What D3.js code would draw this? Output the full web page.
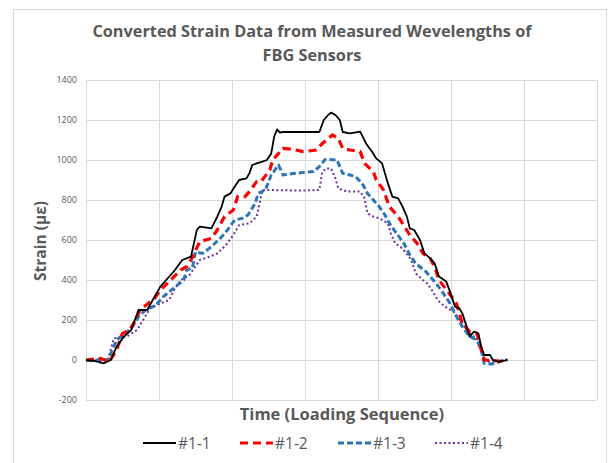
<!DOCTYPE html>
<html>
<head>
<meta charset="utf-8">
<script src="https://cdn.jsdelivr.net/npm/d3@7"></script>
<style>
  body { margin: 0; background: #fff; }
  svg { display: block; }
</style>
</head>
<body>
<div id="chart"></div>
<script>
// series names shown in the legend
const seriesNames = ["#1-1", "#1-2", "#1-3", "#1-4"];
const yTicks = [-200, 0, 200, 400, 600, 800, 1000, 1200, 1400];

// time index (loading sequence) and strain values
const t11 = [0, 6, 12, 17, 21, 26, 31, 36, 42, 47, 51, 55, 58, 61, 66, 72, 76, 78, 86, 90, 93, 95, 99, 102, 105, 110, 112, 114, 117, 121, 124, 127, 129, 131, 133, 135, 160, 163, 166, 168, 171, 174, 176, 181, 188, 192, 196, 199, 203, 205, 207, 210, 214, 217, 220, 222, 225, 229, 232, 236, 239, 242, 247, 250, 253, 256, 258, 261, 263, 266, 269, 271, 273, 277, 279, 283, 287, 289];
const s11 = [0, -5, -17, 0, 67, 117, 150, 250, 250, 317, 367, 400, 425, 450, 500, 517, 650, 667, 658, 717, 767, 817, 833, 867, 900, 908, 933, 975, 983, 992, 1000, 1033, 1117, 1153, 1137, 1140, 1140, 1200, 1225, 1237, 1225, 1200, 1140, 1133, 1142, 1083, 1042, 1008, 983, 933, 883, 817, 808, 767, 717, 658, 650, 600, 533, 508, 483, 417, 392, 333, 267, 258, 233, 167, 117, 142, 133, 67, 25, 25, 0, -8, -3, 0];

const t12 = [0, 10, 16, 21, 25, 30, 34, 37, 47, 51, 58, 65, 69, 72, 78, 86, 90, 95, 101, 104, 109, 112, 117, 120, 126, 128, 132, 135, 142, 149, 158, 161, 166, 169, 173, 176, 181, 188, 191, 197, 199, 204, 208, 214, 217, 222, 227, 231, 236, 239, 242, 249, 254, 258, 263, 268, 271, 273, 279, 286];
const s12 = [0, 8, -8, 50, 133, 150, 200, 250, 308, 350, 400, 450, 467, 500, 592, 608, 650, 717, 750, 817, 817, 842, 892, 892, 950, 1000, 1033, 1058, 1053, 1042, 1050, 1075, 1108, 1125, 1108, 1058, 1050, 1042, 983, 942, 900, 850, 767, 717, 683, 625, 583, 533, 508, 467, 400, 333, 283, 183, 142, 133, 50, 0, -3, -8];

const t13 = [0, 6, 10, 15, 21, 31, 36, 41, 48, 53, 60, 67, 69, 73, 75, 80, 86, 92, 97, 102, 107, 111, 116, 118, 123, 127, 132, 135, 142, 156, 160, 164, 172, 176, 181, 185, 190, 193, 197, 201, 205, 208, 212, 218, 222, 226, 233, 240, 245, 249, 254, 258, 263, 268, 271, 273, 278, 284, 288];
const s13 = [0, -5, 5, 0, 100, 158, 217, 250, 275, 317, 358, 400, 450, 460, 540, 533, 567, 608, 650, 700, 708, 725, 783, 833, 850, 925, 975, 925, 933, 942, 967, 1003, 1000, 933, 925, 917, 875, 833, 800, 767, 725, 683, 642, 583, 525, 483, 442, 383, 333, 290, 217, 167, 117, 100, 50, -17, -20, -8, 3];

const t14 = [0, 10, 15, 19, 28, 35, 44, 51, 57, 61, 65, 71, 78, 85, 90, 96, 101, 105, 112, 117, 121, 125, 147, 160, 162, 165, 168, 171, 173, 179, 188, 191, 193, 196, 201, 207, 209, 212, 217, 223, 226, 231, 234, 238, 241, 246, 252, 258, 263, 269, 272, 275, 284, 289];
const s14 = [0, -5, 0, 108, 117, 150, 258, 283, 300, 358, 400, 425, 500, 517, 533, 575, 625, 675, 683, 717, 850, 850, 847, 850, 942, 958, 958, 908, 858, 842, 842, 808, 733, 720, 708, 683, 633, 583, 558, 500, 433, 400, 383, 340, 300, 267, 242, 183, 133, 100, 25, -8, -3, 3];

const width = 609, height = 463;
const margin = { left: 86, right: 12, top: 80, bottom: 63 };

const svg = d3.select("#chart")
    .append("svg")
    .attr("width", width)
    .attr("height", height);

// outer chart border
svg.append("rect")
    .attr("x", 13.5).attr("y", 9.5)
    .attr("width", 593).attr("height", 470)
    .attr("fill", "none")
    .attr("stroke", "#d9d9d9");

const x = d3.scaleLinear()
    .domain([0, 350])
    .range([margin.left, width - margin.right - 0.5]);

const y = d3.scaleLinear()
    .domain([-200, 1400])
    .range([height - margin.bottom, margin.top]);

// grid lines
svg.append("g")
    .selectAll("line")
    .data(yTicks)
    .join("line")
    .attr("x1", x(0)).attr("x2", x(350))
    .attr("y1", d => Math.round(y(d)) + 0.5)
    .attr("y2", d => Math.round(y(d)) + 0.5)
    .attr("stroke", "#d9d9d9");

svg.append("g")
    .selectAll("line")
    .data(d3.range(0, 351, 50))
    .join("line")
    .attr("x1", d => Math.round(x(d)) + 0.5)
    .attr("x2", d => Math.round(x(d)) + 0.5)
    .attr("y1", y(1400)).attr("y2", y(-200))
    .attr("stroke", "#d9d9d9");

// y tick labels
svg.append("g")
    .selectAll("text")
    .data(yTicks)
    .join("text")
    .attr("x", 77)
    .attr("y", d => y(d) + 3)
    .attr("text-anchor", "end")
    .attr("font-family", "Open Sans, sans-serif")
    .attr("font-size", 9)
    .attr("fill", "#595959")
    .text(d => d);

const series = [
    { name: seriesNames[0], t: t11, s: s11, color: "#000000", w: 1.8, dash: null },
    { name: seriesNames[1], t: t12, s: s12, color: "#ff0000", w: 3.2, dash: "8,5" },
    { name: seriesNames[2], t: t13, s: s13, color: "#2e75b6", w: 3, dash: "6,3" },
    { name: seriesNames[3], t: t14, s: s14, color: "#7030a0", w: 2, dash: "2,2.5" }
];

const line = d3.line()
    .x(d => x(d[0]))
    .y(d => y(d[1]));

// draw bottom series first so the black line stays on top
series.slice().reverse().forEach(sr => {
    svg.append("path")
        .datum(d3.zip(sr.t, sr.s))
        .attr("fill", "none")
        .attr("stroke", sr.color)
        .attr("stroke-width", sr.w)
        .attr("stroke-dasharray", sr.dash)
        .attr("stroke-linejoin", "round")
        .attr("d", line);
});

// titles
const title = svg.append("text")
    .attr("text-anchor", "middle")
    .attr("font-family", "Open Sans, sans-serif")
    .attr("font-weight", "bold")
    .attr("font-size", 16.3)
    .attr("fill", "#595959");
title.append("tspan").attr("x", 312).attr("y", 37).text("Converted Strain Data from Measured Wevelengths of");
title.append("tspan").attr("x", 312).attr("y", 61).text("FBG Sensors");

svg.append("text")
    .attr("transform", "translate(46,241) rotate(-90)")
    .attr("text-anchor", "middle")
    .attr("font-family", "Open Sans, sans-serif")
    .attr("font-weight", "bold")
    .attr("font-size", 15.5)
    .attr("fill", "#595959")
    .text("Strain (με)");

svg.append("text")
    .attr("x", 342)
    .attr("y", 420)
    .attr("text-anchor", "middle")
    .attr("font-family", "Open Sans, sans-serif")
    .attr("font-weight", "bold")
    .attr("font-size", 16.5)
    .attr("fill", "#595959")
    .text("Time (Loading Sequence)");

// legend
const legendX = [143, 240, 338, 435];
const legend = svg.append("g")
    .selectAll("g")
    .data(series)
    .join("g")
    .attr("transform", (d, i) => `translate(${legendX[i]},443)`);

legend.append("line")
    .attr("x1", 0).attr("x2", 33)
    .attr("stroke", d => d.color)
    .attr("stroke-width", d => d.w)
    .attr("stroke-dasharray", d => d.dash);

legend.append("text")
    .attr("x", 35)
    .attr("y", 5.5)
    .attr("font-family", "Open Sans, sans-serif")
    .attr("font-size", 15.5)
    .attr("fill", "#595959")
    .text(d => d.name);
</script>
</body>
</html>
